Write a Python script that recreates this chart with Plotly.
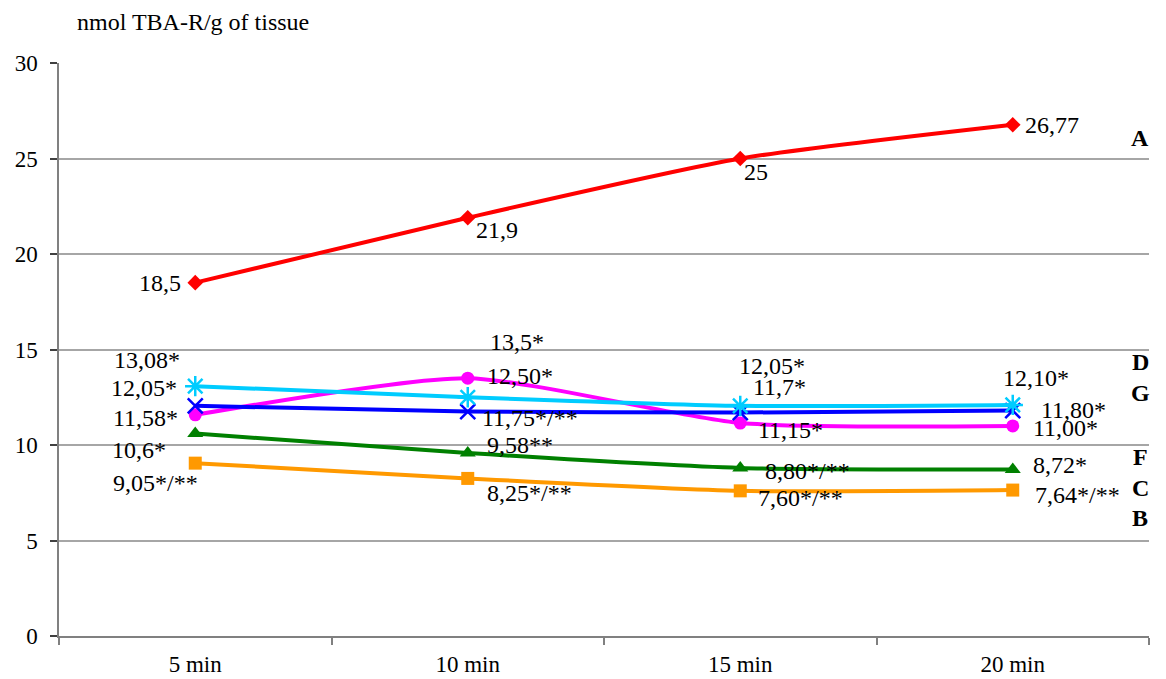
import plotly.graph_objects as go

categories = ["5 min", "10 min", "15 min", "20 min"]

series_A = [18.5, 21.9, 25.0, 26.77]
labels_A = ["18,5", "21,9", "25", "26,77"]

series_cyan = [13.08, 12.50, 12.05, 12.10]
labels_cyan = ["13,08*", "12,50*", "12,05*", "12,10*"]

series_blue = [12.05, 11.75, 11.70, 11.80]
labels_blue = ["12,05*", "11,75*/**", "11,7*", "11,80*"]

series_pink = [11.58, 13.50, 11.15, 11.00]
labels_pink = ["11,58*", "13,5*", "11,15*", "11,00*"]

series_green = [10.60, 9.58, 8.80, 8.72]
labels_green = ["10,6*", "9,58**", "8,80*/**", "8,72*"]

series_orange = [9.05, 8.25, 7.60, 7.64]
labels_orange = ["9,05*/**", "8,25*/**", "7,60*/**", "7,64*/**"]

group_letters = ["A", "D", "G", "F", "C", "B"]
group_letter_y = [0.869, 0.478, 0.424, 0.312, 0.258, 0.206]

FONT = "Liberation Serif"

fig = go.Figure()

def add_series(vals, color, symbol, msize, lw=4, mline=None):
    marker = dict(symbol=symbol, size=msize, color=color)
    if mline:
        marker["line"] = dict(color=color, width=mline)
    fig.add_trace(go.Scatter(
        x=categories, y=vals, mode="lines+markers",
        line=dict(color=color, width=lw, shape="spline", smoothing=0.6),
        marker=marker, showlegend=False, cliponaxis=False))

add_series(series_orange, "#FF9900", "square", 13)
add_series(series_green, "#008000", "triangle-up", 14)
add_series(series_pink, "#FF00FF", "circle", 13)
add_series(series_blue, "#0000FF", "x-thin-open", 15, mline=2.5)
add_series(series_cyan, "#00CCFF", "asterisk-open", 17, mline=2.5)
add_series(series_A, "#FF0000", "diamond", 12, lw=4)

# label offsets (xanchor, xshift, yshift) per series per point
offsets = {
    "A": [("right", -12, 0), ("left", 6, -12), ("left", 2, -13), ("left", 10, 0)],
    "cyan": [("right", -13, 26), ("left", 17, 21), ("left", -3, 40), ("left", -12, 27)],
    "blue": [("right", -16, 18), ("left", 12, -6), ("left", 11, 26), ("left", 26, 1)],
    "pink": [("right", -15, -3), ("left", 20, 36), ("left", 16, -7), ("left", 18, -2)],
    "green": [("right", -27, -16), ("left", 17, 8), ("left", 23, -3), ("left", 18, 4)],
    "orange": [("right", 5, -20), ("left", 17, -15), ("left", 16, -7), ("left", 20, -5)],
}
data = {
    "A": (series_A, labels_A),
    "cyan": (series_cyan, labels_cyan),
    "blue": (series_blue, labels_blue),
    "pink": (series_pink, labels_pink),
    "green": (series_green, labels_green),
    "orange": (series_orange, labels_orange),
}
for key, (vals, labs) in data.items():
    for i, (v, t) in enumerate(zip(vals, labs)):
        xa, xs, ys = offsets[key][i]
        fig.add_annotation(x=categories[i], y=v, xref="x", yref="y", text=t,
                           showarrow=False, xanchor=xa, yanchor="middle",
                           xshift=xs, yshift=ys,
                           font=dict(family=FONT, size=24, color="black"))

for letter, yp in zip(group_letters, group_letter_y):
    fig.add_annotation(x=0.992, y=yp, xref="paper", yref="paper", text="<b>%s</b>" % letter,
                       showarrow=False, xanchor="center", yanchor="middle",
                       font=dict(family=FONT, size=24, color="black"))

fig.add_annotation(x=0.0147, y=1.0716, xref="paper", yref="paper",
                   text="nmol TBA-R/g of tissue", showarrow=False,
                   xanchor="left", yanchor="middle",
                   font=dict(family=FONT, size=24, color="black"))

fig.update_layout(
    width=1166, height=679,
    margin=dict(l=59, r=17, t=63, b=43, autoexpand=False),
    plot_bgcolor="white", paper_bgcolor="white",
    font=dict(family=FONT, size=23, color="black"),
    xaxis=dict(type="category", tickson="boundaries", ticks="outside", ticklen=7,
               tickcolor="#808080", tickwidth=1.5, showline=True, linecolor="#808080",
               linewidth=1.5, showgrid=False, zeroline=False, ticklabelstandoff=7,
               automargin=False,
               tickfont=dict(family=FONT, size=23), range=[-0.5, 3.5]),
    yaxis=dict(range=[0, 30], dtick=5, ticks="outside", ticklen=7, tickcolor="#404040",
               tickwidth=1.5, showline=True, linecolor="#808080", linewidth=1.5,
               showgrid=True, gridcolor="#A6A6A6", gridwidth=1.8, zeroline=False,
               automargin=False,
               ticklabelstandoff=8, tickfont=dict(family=FONT, size=23)),
)

fig.write_html("out.html", config={"displayModeBar": False},
               post_script="document.body.style.margin='0';document.body.style.overflow='hidden';")
